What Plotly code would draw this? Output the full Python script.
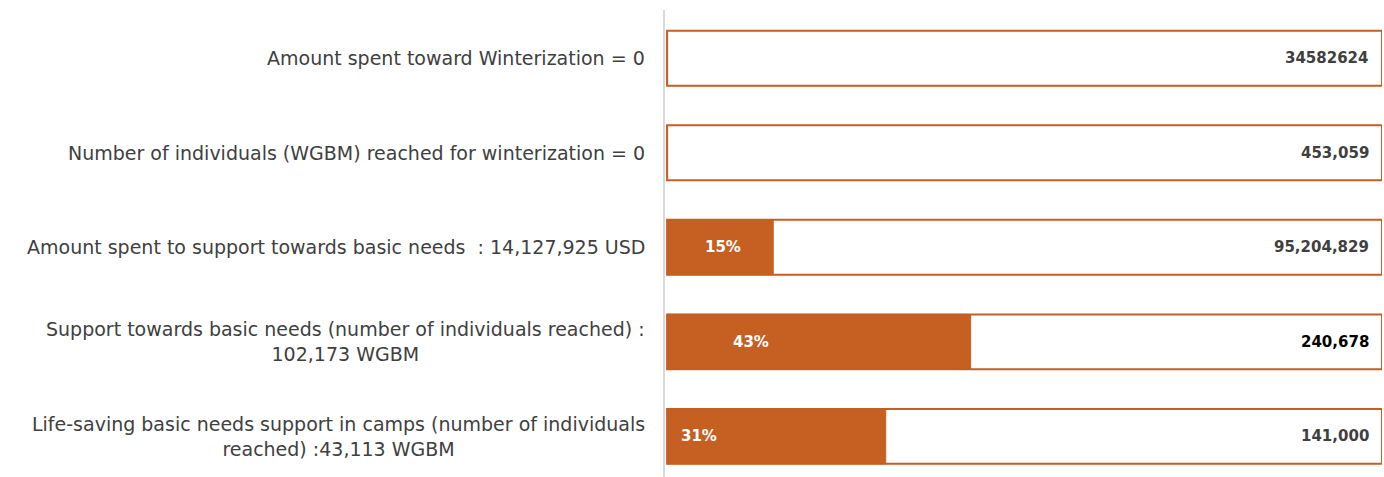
import plotly.graph_objects as go

categories = [
    "Amount spent toward Winterization = 0",
    "Number of individuals (WGBM) reached for winterization = 0",
    "Amount spent to support towards basic needs \u00a0: 14,127,925 USD",
    "Support towards basic needs (number of individuals reached) :<br>102,173 WGBM",
    "Life-saving basic needs support in camps (number of individuals<br>reached) :43,113 WGBM",
]
achieved = [0, 0, 14127925, 102173, 43113]
targets = [34582624, 453059, 95204829, 240678, 141000]
target_labels = ["34582624", "453,059", "95,204,829", "240,678", "141,000"]
pct_labels = ["", "", "15%", "43%", "31%"]

# styling (not data)
ORANGE = "#C55F22"
pct_label_x = [0, 0, 0.078, 0.117, 0.045]
value_colors = ["#404040", "#404040", "#404040", "#000000", "#404040"]
FONT = "DejaVu Sans"

share = [a / t for a, t in zip(achieved, targets)]
ys = list(range(len(categories)))

fig = go.Figure()
fig.add_trace(go.Bar(
    y=ys, x=[1] * len(ys), orientation="h",
    marker=dict(color="white", line=dict(color=ORANGE, width=2)),
    hoverinfo="skip", showlegend=False,
))
fig.add_trace(go.Bar(
    y=ys, x=share, orientation="h",
    marker=dict(color=ORANGE, line=dict(color=ORANGE, width=1)),
    showlegend=False,
))

annotations = []
for i, cat in enumerate(categories):
    annotations.append(dict(
        x=0, xref="paper", y=i, yref="y", text=cat, showarrow=False,
        xanchor="right", yanchor="middle", align="center", xshift=-18,
        font=dict(family=FONT, size=19, color="#404040"),
    ))
    annotations.append(dict(
        x=1, xref="x", y=i, yref="y", text="<b>" + target_labels[i] + "</b>",
        showarrow=False, xanchor="right", yanchor="middle", xshift=-11,
        font=dict(family=FONT, size=15, color=value_colors[i]),
    ))
    if pct_labels[i]:
        annotations.append(dict(
            x=pct_label_x[i], xref="x", y=i, yref="y",
            text="<b>" + pct_labels[i] + "</b>", showarrow=False,
            xanchor="center", yanchor="middle",
            font=dict(family=FONT, size=15, color="white"),
        ))

fig.update_layout(
    width=1384, height=477,
    margin=dict(l=665, r=2, t=10, b=0),
    barmode="overlay", bargap=0.42,
    plot_bgcolor="white", paper_bgcolor="white",
    xaxis=dict(range=[-0.003, 1.0], visible=False, showgrid=False, zeroline=False),
    yaxis=dict(range=[4.43, -0.51], showticklabels=False, showgrid=False,
               zeroline=False, showline=True, linecolor="#d9d9d9", linewidth=2,
               ticks="", layer="below traces"),
    annotations=annotations,
    font=dict(family=FONT),
)

fig.write_html("out.html", config={"displayModeBar": False},
               post_script="document.body.style.margin='0';")
